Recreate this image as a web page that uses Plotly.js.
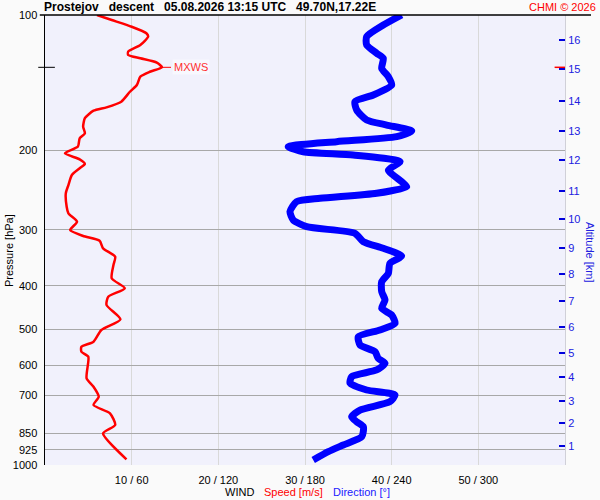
<!DOCTYPE html>
<html>
<head>
<meta charset="utf-8">
<script src="https://cdn.plot.ly/plotly-3.0.1.min.js"></script>
<style>html,body{margin:0;padding:0;background:#fafafa;}#chart{width:600px;height:500px;}</style>
</head>
<body>
<div id="chart"></div>
<script>
// Wind speed profile (m/s) vs pressure (hPa)
var speedP = [100,102.6,106.2,109.8,111.7,116.6,120.6,122.7,124.8,127.6,130.7,133.7,137.1,143.1,148.1,155.8,160.4,163.2,169.6,177.1,183.2,187.9,196.1,202.9,209.3,214.3,219.1,226.8,238.7,249.0,266.7,275.9,288.0,300.5,309.8,317.4,330.0,344.5,359.4,384.8,404.9,422.7,441.0,474.5,501.2,532.1,546.0,560.2,574.7,641.8,669.9,705.0,735.6,767.5,815.0,850.5,971.2];
var speeds = [6.0,7.7,10.0,11.7,11.9,11.0,9.6,9.6,11.0,12.9,13.5,12.1,11.0,10.6,9.8,8.8,7.1,5.6,4.6,4.4,4.6,4.0,3.8,2.3,4.0,4.6,4.0,3.1,2.7,2.4,2.5,2.7,3.7,2.9,4.4,6.3,6.7,8.1,7.9,7.7,9.2,7.3,7.1,8.7,6.5,5.6,4.2,4.2,5.0,4.8,5.6,6.2,5.6,7.5,8.1,6.7,9.4];

// Wind direction profile (deg) vs pressure (hPa)
var dirP = [100,105.3,111.7,116.6,121.6,124.8,131.4,137.1,143.1,150.6,155.8,162.6,171.1,175.6,181.1,186.4,191.2,196.1,201.3,204.7,211.8,221.1,234.6,240.7,249.0,255.5,259.9,273.6,285.5,295.4,305.6,319.0,330.0,343.3,356.3,375.0,391.4,412.0,429.9,448.6,464.2,484.4,501.2,518.7,541.2,560.2,579.5,594.3,615.0,636.4,658.2,681.3,699.0,723.4,754.9,781.2,801.5,822.2,865.3,902.6,934.1,974.7];
var dirs = [246.9,234.2,222.7,222.7,229.6,234.2,233.1,237.7,240.0,227.3,214.6,215.8,222.7,236.6,253.9,243.5,201.9,168.4,178.8,213.4,245.8,237.7,246.9,250.4,229.6,190.4,174.2,169.6,171.9,181.2,214.6,220.4,234.2,246.9,238.8,237.7,233.1,233.1,235.4,233.1,240.0,242.3,231.9,216.9,218.1,228.5,230.7,235.4,229.6,212.3,211.2,222.7,242.3,238.8,218.1,212.3,215.8,220.4,219.3,206.5,196.1,185.7];

// Axis ticks
var pressureTicks = [100,200,300,400,500,600,700,850,925,1000];
var windTicks = [10,20,30,40,50,60];
var windTickText = ['10 / 60','20 / 120','30 / 180','40 / 240','50 / 300',''];
var altP = [906.2,807.9,719.7,636.4,563.0,492.8,432.1,376.9,330.0,284.4,245.7,210.1,181.1,155.3,132.0,113.5];
var altKm = ['1','2','3','4','5','6','7','8','9','10','11','12','13','14','15','16'];

var titleText = 'Prostejov\u00a0\u00a0\u00a0descent\u00a0\u00a0\u00a005.08.2026 13:15 UTC\u00a0\u00a0\u00a049.70N,17.22E';

// max wind
var iMax = 0;
for (var i = 1; i < speeds.length; i++) if (speeds[i] > speeds[iMax]) iMax = i;
var maxS = speeds[iMax], maxP = speedP[iMax];

var FONT = 'Liberation Sans, Arial, sans-serif';

var traces = [
  {x: dirs, y: dirP, xaxis: 'x2', yaxis: 'y2', type: 'scatter', mode: 'lines',
   line: {color: '#0000ff', width: 7, shape: 'spline', smoothing: 0.6}, hoverinfo: 'skip'},
  {x: speeds, y: speedP, xaxis: 'x', yaxis: 'y', type: 'scatter', mode: 'lines',
   line: {color: '#ff0000', width: 2.5, shape: 'spline', smoothing: 0.6}, hoverinfo: 'skip'}
];

var layout = {
  width: 600, height: 500,
  margin: {l: 45, r: 35, t: 15, b: 35, pad: 0},
  paper_bgcolor: '#fafafa',
  plot_bgcolor: '#f1f1fc',
  showlegend: false,
  font: {family: FONT, size: 11, color: '#000'},
  title: {text: '<b>' + titleText + '</b>', x: 44/600, xanchor: 'left', xref: 'container',
          y: 1 - 7/500, yanchor: 'middle', yref: 'container', font: {family: FONT, size: 12, color: '#000'}},
  xaxis: {range: [0, 60], tickvals: windTicks, ticktext: windTickText, showgrid: true,
          gridcolor: '#d9d9d9', gridwidth: 1, zeroline: false, showline: false,
          ticks: 'outside', ticklen: 5, tickcolor: 'rgba(0,0,0,0)',
          tickfont: {family: FONT, size: 11, color: '#000'}, fixedrange: true},
  xaxis2: {range: [0, 360], overlaying: 'x', visible: false, fixedrange: true},
  yaxis: {type: 'log', range: [3, 2], autorange: false, tickvals: pressureTicks,
          ticktext: pressureTicks.map(String), showgrid: true, gridcolor: '#a8a8a8', gridwidth: 1,
          zeroline: false, showline: true, linecolor: '#000', linewidth: 1.5,
          ticks: 'outside', ticklen: 4, tickcolor: 'rgba(0,0,0,0)',
          tickfont: {family: FONT, size: 11, color: '#000'}, fixedrange: true},
  yaxis2: {type: 'log', range: [3, 2], autorange: false, overlaying: 'y', side: 'right',
           tickvals: altP, ticktext: altKm, showgrid: false, zeroline: false,
           showline: true, linecolor: '#d0d0d8', linewidth: 1,
           ticks: 'inside', ticklen: 6, tickwidth: 2, tickcolor: '#0000dd',
           tickfont: {family: FONT, size: 11, color: '#2020e0'}, fixedrange: true},
  shapes: [
    {type: 'line', xref: 'paper', yref: 'paper', x0: -0.01, x1: 1.05, y0: 1, y1: 1,
     line: {color: '#000', width: 1.5}},
    {type: 'line', xref: 'x', xsizemode: 'pixel', xanchor: maxS, x0: 0, x1: 9,
     yref: 'y', y0: maxP, y1: maxP, line: {color: '#ff0000', width: 1}},
    {type: 'line', xref: 'paper', yref: 'y', x0: 0.98, x1: 1.0, y0: maxP, y1: maxP,
     line: {color: '#ff0000', width: 1.5}},
    {type: 'line', xref: 'paper', yref: 'y', x0: -0.013, x1: 0.019, y0: maxP, y1: maxP,
     line: {color: '#000', width: 1}}
  ],
  annotations: [
    {text: 'CHMI © 2026', xref: 'paper', yref: 'paper', x: (598-45)/520, y: 1 + 8/450,
     xanchor: 'right', yanchor: 'middle', showarrow: false, font: {family: FONT, size: 11, color: '#ff0000'}},
    {text: 'Pressure [hPa]', xref: 'paper', yref: 'paper', x: (9-45)/520, y: (465-251)/450,
     xanchor: 'center', yanchor: 'middle', textangle: -90, showarrow: false,
     font: {family: FONT, size: 11, color: '#000'}},
    {text: 'Altitude [km]', xref: 'paper', yref: 'paper', x: (590-45)/520, y: (465-252)/450,
     xanchor: 'center', yanchor: 'middle', textangle: 90, showarrow: false,
     font: {family: FONT, size: 11, color: '#2020e0'}},
    {text: 'WIND', xref: 'paper', yref: 'paper', x: (239-45)/520, y: (465-492)/450,
     xanchor: 'center', yanchor: 'middle', showarrow: false, borderpad: 0, font: {family: FONT, size: 11, color: '#000'}},
    {text: 'Speed [m/s]', xref: 'paper', yref: 'paper', x: (293-45)/520, y: (465-492)/450,
     xanchor: 'center', yanchor: 'middle', showarrow: false, borderpad: 0, font: {family: FONT, size: 11, color: '#ff0000'}},
    {text: 'Direction [°]', xref: 'paper', yref: 'paper', x: (361-45)/520, y: (465-492)/450,
     xanchor: 'center', yanchor: 'middle', showarrow: false, borderpad: 0, font: {family: FONT, size: 11, color: '#2020ff'}},
    {text: 'MXWS', xref: 'x', yref: 'y', x: maxS, y: Math.log10(maxP), xshift: 10, xanchor: 'left',
     yanchor: 'middle', showarrow: false, bgcolor: 'rgba(255,255,255,0.5)',
     font: {family: FONT, size: 11, color: '#ff3030'}}
  ]
};

Plotly.newPlot('chart', traces, layout, {staticPlot: true, displayModeBar: false});
</script>
</body>
</html>
